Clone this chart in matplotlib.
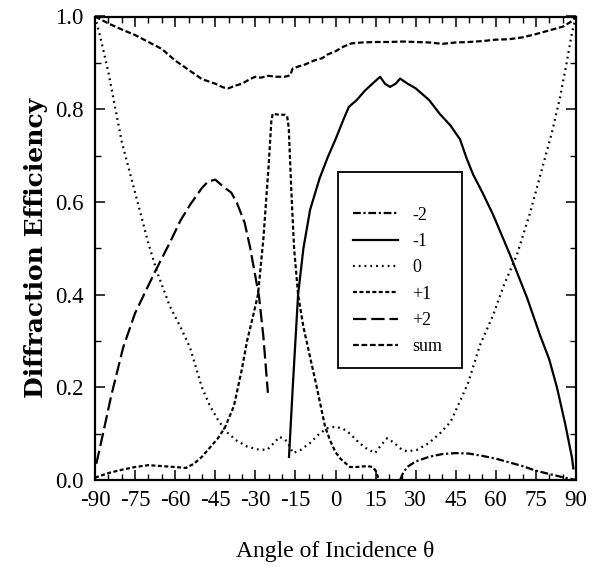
import numpy as np
import matplotlib
matplotlib.use('Agg')
import matplotlib.pyplot as plt
from matplotlib.patches import Rectangle
from matplotlib.ticker import MultipleLocator

plt.rcParams['font.family'] = ['Liberation Serif', 'DejaVu Serif']
plt.rcParams['axes.unicode_minus'] = False

# orden -2 (traço-ponto)
x_m2 = [24.2, 25, 26.8, 30, 35, 40, 45, 50, 55, 60, 65, 70, 75, 80, 85, 90]
y_m2 = [0.0, 0.012, 0.028, 0.04, 0.05, 0.056, 0.058, 0.057, 0.052, 0.046,
        0.038, 0.03, 0.02, 0.013, 0.006, 0.0]

# ordem -1 (contínua)
x_m1 = [-17.4, -16, -14, -12, -9.5, -6, -3, 0, 3, 5, 8, 11, 14, 16.7, 18.5,
        20.4, 22.5, 24.2, 27, 30, 35, 39, 43, 46.6, 49, 51.5, 55, 59, 65.3,
        71.7, 76.5, 80, 82.9, 86, 88.5, 89]
y_m1 = [0.05, 0.2, 0.40, 0.50, 0.583, 0.65, 0.695, 0.735, 0.778, 0.805, 0.82,
        0.84, 0.856, 0.870, 0.855, 0.848, 0.855, 0.866, 0.855, 0.845, 0.82,
        0.79, 0.765, 0.735, 0.695, 0.659, 0.62, 0.572, 0.486, 0.393, 0.313,
        0.26, 0.199, 0.12, 0.048, 0.025]

# ordem 0 (pontilhada)
x_0 = [-90, -88, -85, -80, -75, -70, -66.8, -62, -58, -54.4, -50, -47, -44,
       -41, -37, -33, -29, -25.6, -23, -21, -19, -17.8, -15.9, -13, -9.5, -6,
       -3, 0, 3, 5.4, 8, 11, 14.8, 17, 19.3, 22, 24.9, 27, 30.5, 35, 39, 43,
       46.6, 49.6, 54, 59, 63, 67.9, 73, 77.7, 81, 84, 86.5, 88.5, 90]
y_0 = [1.0, 0.955, 0.88, 0.73, 0.62, 0.51, 0.449, 0.375, 0.33, 0.285, 0.2,
       0.16, 0.13, 0.105, 0.085, 0.072, 0.066, 0.065, 0.08, 0.093, 0.088,
       0.08, 0.058, 0.065, 0.08, 0.1, 0.112, 0.115, 0.11, 0.10, 0.085, 0.07,
       0.058, 0.075, 0.09, 0.08, 0.065, 0.062, 0.065, 0.08, 0.10, 0.125,
       0.17, 0.209, 0.29, 0.356, 0.42, 0.486, 0.58, 0.68, 0.75, 0.825, 0.9,
       0.965, 1.0]

# ordem +1 (tracejado curto)
x_p1 = [-90, -85, -80, -75, -70, -65, -60, -56, -53, -50, -47, -44, -41.3,
        -38, -35, -33.1, -31, -29, -27, -25, -24, -23.5, -21, -19, -18.1,
        -17.5, -16.5, -15.5, -14, -12, -9.5, -7, -3.9, -2, 0, 2, 5.4, 8,
        11.8, 14, 15, 16, 17]
y_p1 = [0.005, 0.015, 0.022, 0.028, 0.032, 0.03, 0.028, 0.026, 0.035, 0.05,
        0.07, 0.09, 0.114, 0.16, 0.24, 0.30, 0.35, 0.40, 0.52, 0.68, 0.775,
        0.79, 0.788, 0.788, 0.785, 0.76, 0.62, 0.5, 0.40, 0.33, 0.265, 0.2,
        0.115, 0.085, 0.06, 0.045, 0.028, 0.028, 0.03, 0.028, 0.02, 0.005, 0.0]

# ordem +2 (tracejado longo)
x_p2 = [-89.5, -87, -84, -79.5, -75, -70, -66.8, -62, -58, -54.4, -50, -47.7,
        -45, -42, -39, -36.9, -34, -32, -30, -28.6, -27, -25.3]
y_p2 = [0.035, 0.1, 0.18, 0.285, 0.36, 0.42, 0.458, 0.512, 0.56, 0.594, 0.63,
        0.644, 0.648, 0.633, 0.62, 0.598, 0.555, 0.503, 0.44, 0.395, 0.31, 0.188]

# soma
x_sum = [-90, -85, -80, -75, -70, -65, -60, -55, -50, -45, -42, -40, -38, -35,
         -32, -30, -28, -25, -22, -19, -17, -16, -14, -12, -10, -8, -5, -3, 0,
         3, 6, 10, 15, 20, 25, 30, 35, 40, 45, 50, 55, 60, 65, 70, 75, 80, 85,
         88.5, 90]
y_sum = [1.0, 0.985, 0.972, 0.96, 0.945, 0.93, 0.905, 0.885, 0.865, 0.855,
         0.847, 0.845, 0.85, 0.855, 0.865, 0.87, 0.868, 0.872, 0.870, 0.870,
         0.873, 0.888, 0.892, 0.895, 0.900, 0.905, 0.910, 0.918, 0.925, 0.935,
         0.942, 0.944, 0.945, 0.945, 0.946, 0.945, 0.944, 0.941, 0.944, 0.945,
         0.947, 0.950, 0.951, 0.955, 0.962, 0.970, 0.978, 0.99, 1.0]

fig = plt.figure(figsize=(5.95, 5.67), dpi=100)
ax = fig.add_axes([95 / 595, 1 - 480 / 567, 481 / 595, 463.5 / 567])

lw = 1.6
ax.plot(x_m2, y_m2, color='black', lw=lw, dashes=(3.5, 1.2, 1.0, 1.2), label='-2')
ax.plot(x_m1, y_m1, color='black', lw=lw, label='-1')
ax.plot(x_0, y_0, color='black', lw=lw, dashes=(0.8, 1.8), label='0')
ax.plot(x_p1, y_p1, color='black', lw=lw, dashes=(1.8, 1.1), label='+1')
ax.plot(x_p2, y_p2, color='black', lw=lw, dashes=(6.0, 2.2), label='+2')
ax.plot(x_sum, y_sum, color='black', lw=lw, dashes=(2.6, 1.2), label='sum')

ax.set_xlim(-90, 90)
ax.set_ylim(0, 1)
ax.xaxis.set_major_locator(MultipleLocator(15))
ax.xaxis.set_minor_locator(MultipleLocator(5))
ax.yaxis.set_major_locator(MultipleLocator(0.2))
ax.yaxis.set_minor_locator(MultipleLocator(0.1))
ax.yaxis.set_major_formatter(matplotlib.ticker.FormatStrFormatter('%.1f'))
ax.tick_params(which='both', direction='in', top=True, right=True, labelsize=16.5)
ax.tick_params(which='major', length=7, width=1.1)
ax.tick_params(which='minor', length=4, width=1.0)
ax.tick_params(axis='x', pad=7)
ax.tick_params(axis='y', pad=8)
for s in ax.spines.values():
    s.set_linewidth(1.6)

ax.set_xlabel('Angle of Incidence θ', fontsize=17, labelpad=22)
ax.set_ylabel('Diffraction Efficiency', fontsize=18, family='DejaVu Serif',
              fontweight='bold', labelpad=5)

# caixa da legenda
ax.add_patch(Rectangle((0.505, 0.242), 0.258, 0.423, transform=ax.transAxes,
                       fill=False, lw=1.3, color='black'))
ax.legend(loc='upper left', bbox_to_anchor=(0.536, 0.59), frameon=False,
          fontsize=13, borderpad=0, borderaxespad=0, handlelength=2.5,
          handletextpad=0.8, labelspacing=0.52)

fig.savefig('out.png', dpi=100)
